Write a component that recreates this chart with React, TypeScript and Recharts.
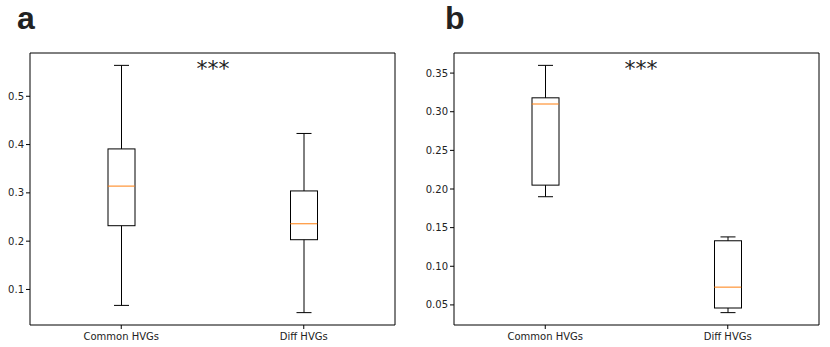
import { ComposedChart, Bar, Scatter, XAxis, YAxis } from 'recharts'

const categories = ['Common HVGs', 'Diff HVGs']

// panel a
const aMin = [0.067, 0.052]
const aQ1 = [0.232, 0.203]
const aMedian = [0.314, 0.236]
const aQ3 = [0.391, 0.304]
const aMax = [0.564, 0.423]
const aTicks = [0.1, 0.2, 0.3, 0.4, 0.5]
const aDomain = [0.0264, 0.5896]

// panel b
const bMin = [0.19, 0.04]
const bQ1 = [0.205, 0.046]
const bMedian = [0.31, 0.073]
const bQ3 = [0.318, 0.133]
const bMax = [0.36, 0.138]
const bTicks = [0.05, 0.1, 0.15, 0.2, 0.25, 0.3, 0.35]
const bDomain = [0.024, 0.376]

const FONT = '"DejaVu Sans", sans-serif'
const BOX_W = 27
const CAP_W = 15

function buildRows(min: number[], q1: number[], med: number[], q3: number[], max: number[]) {
  return categories.map((name, i) => ({
    name,
    whisker: [min[i], max[i]],
    box: [q1[i], q3[i]],
    median: med[i],
  }))
}

function WhiskerShape(props: any) {
  const { x, y, width, height } = props
  const cx = x + width / 2
  return (
    <g stroke="#000" strokeWidth={1}>
      <line x1={cx} x2={cx} y1={y} y2={y + height} />
      <line x1={x} x2={x + width} y1={y} y2={y} />
      <line x1={x} x2={x + width} y1={y + height} y2={y + height} />
    </g>
  )
}

function BoxShape(props: any) {
  const { x, y, width, height } = props
  return <rect x={x} y={y} width={width} height={height} fill="#fff" stroke="#000" strokeWidth={1} />
}

function MedianShape(props: any) {
  const { cx, cy } = props
  return <line x1={cx - BOX_W / 2} x2={cx + BOX_W / 2} y1={cy} y2={cy} stroke="#ff7f0e" strokeWidth={1} />
}

interface PanelProps {
  rows: any[]
  domain: number[]
  ticks: number[]
  digits: number
  yWidth: number
  right: number
}

function BoxPanel({ rows, domain, ticks, digits, yWidth, right }: PanelProps) {
  const tickStyle = { fontSize: 10, fontFamily: FONT, fill: '#222' }
  return (
    <ComposedChart width={415} height={347} data={rows} margin={{ top: 52, right, bottom: 0, left: 0 }}>
      <XAxis
        dataKey="name"
        tick={tickStyle}
        tickSize={4}
        tickMargin={4}
        height={22}
        stroke="#000"
        tickLine={{ stroke: '#000' }}
        interval={0}
      />
      <XAxis xAxisId="top" dataKey="name" orientation="top" height={1} tick={false} tickLine={false} stroke="#000" />
      <YAxis
        type="number"
        domain={domain}
        ticks={ticks}
        allowDataOverflow
        width={yWidth}
        tick={tickStyle}
        tickSize={4}
        tickMargin={2}
        stroke="#000"
        tickFormatter={(v: number) => v.toFixed(digits)}
      />
      <YAxis yAxisId="r" orientation="right" type="number" domain={domain} width={1} tick={false} tickLine={false} stroke="#000" />
      <Bar dataKey="whisker" barSize={CAP_W} shape={<WhiskerShape />} isAnimationActive={false} />
      <Bar xAxisId="top" dataKey="box" barSize={BOX_W} shape={<BoxShape />} isAnimationActive={false} />
      <Scatter dataKey="median" shape={<MedianShape />} isAnimationActive={false} />
    </ComposedChart>
  )
}

const stars = { position: 'absolute' as const, top: 58, width: 60, textAlign: 'center' as const, fontFamily: FONT, fontSize: 22, lineHeight: '22px', color: '#222' }
const panelLabel = { position: 'absolute' as const, top: 2, fontFamily: '"Liberation Sans", Arial, sans-serif', fontWeight: 700, fontSize: 32, lineHeight: '32px', color: '#222' }

export default function App() {
  const rowsA = buildRows(aMin, aQ1, aMedian, aQ3, aMax)
  const rowsB = buildRows(bMin, bQ1, bMedian, bQ3, bMax)
  return (
    <div style={{ position: 'absolute', left: 0, top: 0, width: 830, height: 347, background: '#fff' }}>
      <div style={{ position: 'absolute', left: 0, top: 0 }}>
        <BoxPanel rows={rowsA} domain={aDomain} ticks={aTicks} digits={1} yWidth={30} right={19} />
      </div>
      <div style={{ position: 'absolute', left: 415, top: 0 }}>
        <BoxPanel rows={rowsB} domain={bDomain} ticks={bTicks} digits={2} yWidth={39} right={10} />
      </div>
      <div style={{ ...panelLabel, left: 17 }}>a</div>
      <div style={{ ...panelLabel, left: 445 }}>b</div>
      <div style={{ ...stars, left: 213 - 30 }}>***</div>
      <div style={{ ...stars, left: 641 - 30 }}>***</div>
    </div>
  )
}
